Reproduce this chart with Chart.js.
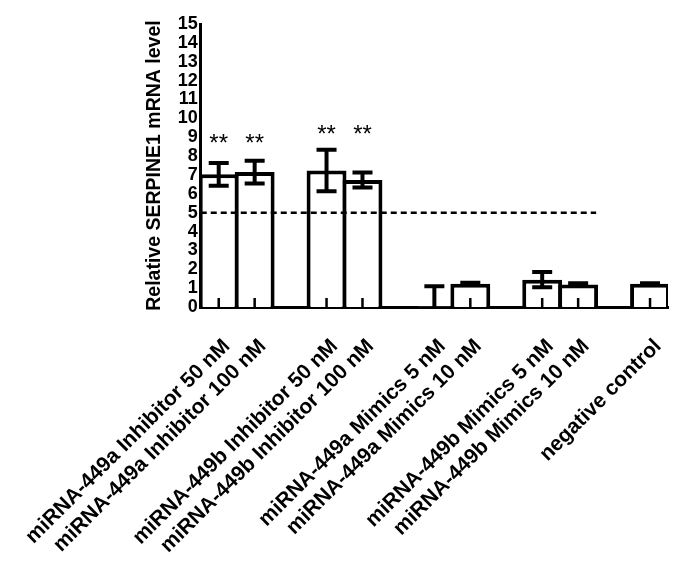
<!DOCTYPE html>
<html>
<head>
<meta charset="utf-8">
<script src="https://cdn.jsdelivr.net/npm/chart.js@4/dist/chart.umd.min.js"></script>
<style>
  html, body { margin: 0; padding: 0; background: #fff; }
  #wrap { width: 685px; height: 578px; }
</style>
</head>
<body>
<div id="wrap"><canvas id="c" width="685" height="578"></canvas></div>
<script>
// ---- data ----
const categories = [
  'miRNA-449a Inhibitor 50 nM', 'miRNA-449a Inhibitor 100 nM', '',
  'miRNA-449b Inhibitor 50 nM', 'miRNA-449b Inhibitor 100 nM', '',
  'miRNA-449a Mimics 5 nM', 'miRNA-449a Mimics 10 nM', '',
  'miRNA-449b Mimics 5 nM', 'miRNA-449b Mimics 10 nM', '',
  'negative control'
];
const meanValues = [7.03, 7.15, null, 7.23, 6.73, null, 0.03, 1.23, null, 1.45, 1.19, null, 1.23];
const errorValues = [0.60, 0.60, null, 1.10, 0.40, null, 1.07, 0.05, null, 0.40, 0.07, null, 0.03];
const sigLabels = ['**', '**', '', '**', '**', '', '', '', '', '', '', '', ''];
const sigLevels = [9.0, 9.0, null, 9.5, 9.5, null, null, null, null, null, null, null, null];
const thresholdValue = 5;
const thresholdEndIndex = 10.5;
const yTicks = [0,1,2,3,4,5,6,7,8,9,10,11,12,13,14,15];
const yTitle = 'Relative SERPINE1 mRNA level';

const extras = {
  id: 'extras',
  afterDatasetsDraw(chart) {
    const ctx = chart.ctx;
    const x = chart.scales.x, y = chart.scales.y;
    const base = y.getPixelForValue(0);
    ctx.save();
    // inner tick marks at bar centres
    ctx.strokeStyle = '#000';
    ctx.lineWidth = 2.5;
    meanValues.forEach((v, i) => {
      if (v === null) return;
      const px = x.getPixelForValue(i);
      ctx.beginPath();
      ctx.moveTo(px, base);
      ctx.lineTo(px, base - 9);
      ctx.stroke();
    });
    // error bars
    ctx.lineWidth = 4;
    ctx.lineCap = 'butt';
    meanValues.forEach((v, i) => {
      if (v === null || errorValues[i] === null) return;
      const px = x.getPixelForValue(i);
      const top = y.getPixelForValue(v + errorValues[i]);
      const lowVal = v - errorValues[i];
      const bot = y.getPixelForValue(Math.max(0, lowVal));
      ctx.beginPath();
      ctx.moveTo(px, top);
      ctx.lineTo(px, bot);
      ctx.stroke();
      ctx.beginPath();
      ctx.moveTo(px - 10, top); ctx.lineTo(px + 10, top);
      if (lowVal > 0) { ctx.moveTo(px - 10, bot); ctx.lineTo(px + 10, bot); }
      ctx.stroke();
    });
    // threshold dashed line
    ctx.lineWidth = 2.5;
    ctx.setLineDash([6, 4]);
    const ty = y.getPixelForValue(thresholdValue);
    ctx.beginPath();
    ctx.moveTo(chart.chartArea.left, ty);
    ctx.lineTo(x.getPixelForValue(thresholdEndIndex), ty);
    ctx.stroke();
    ctx.setLineDash([]);
    // significance marks
    ctx.fillStyle = '#000';
    ctx.font = '24px "Liberation Sans", Arial, sans-serif';
    ctx.textAlign = 'center';
    ctx.textBaseline = 'alphabetic';
    sigLabels.forEach((s, i) => {
      if (!s || sigLevels[i] === null) return;
      const px = x.getPixelForValue(i);
      const py = y.getPixelForValue(sigLevels[i]);
      ctx.fillText(s, px, py + 0.58 * 24);
    });
    ctx.restore();
  }
};

new Chart(document.getElementById('c'), {
  type: 'bar',
  data: {
    labels: categories,
    datasets: [{
      data: meanValues,
      backgroundColor: '#fff',
      borderColor: '#000',
      borderWidth: 4,
      borderSkipped: 'bottom',
      categoryPercentage: 1,
      barPercentage: 1.11
    }]
  },
  options: {
    responsive: false,
    animation: false,
    devicePixelRatio: 1,
    layout: { padding: { top: 24, right: 17, bottom: 0, left: 0 } },
    plugins: { legend: { display: false }, tooltip: { enabled: false } },
    scales: {
      x: {
        afterFit(scale) {
          scale.paddingLeft = Math.max(0, scale.paddingLeft - 8);
          scale.paddingRight = 0;
          scale.height -= 6;
        },
        grid: { display: false, drawTicks: false },
        border: { display: true, color: '#000', width: 3 },
        ticks: {
          autoSkip: false,
          minRotation: 45,
          maxRotation: 45,
          padding: 27,
          labelOffset: 8,
          color: '#000',
          font: { family: '"Liberation Sans", Arial, sans-serif', size: 21, weight: 'bold' }
        }
      },
      y: {
        min: 0,
        max: 15,
        afterBuildTicks(scale) { scale.ticks = yTicks.map(v => ({ value: v })); },
        grid: { display: false, drawTicks: false },
        border: { display: true, color: '#000', width: 3 },
        ticks: {
          autoSkip: false,
          padding: 3,
          color: '#000',
          font: { family: '"Liberation Sans", Arial, sans-serif', size: 18, weight: 'bold' }
        },
        title: {
          display: true,
          text: yTitle,
          color: '#000',
          padding: { top: 0, bottom: 8 },
          font: { family: '"Liberation Sans", Arial, sans-serif', size: 19.5, weight: 'bold' }
        }
      }
    }
  },
  plugins: [extras]
});
</script>
</body>
</html>
